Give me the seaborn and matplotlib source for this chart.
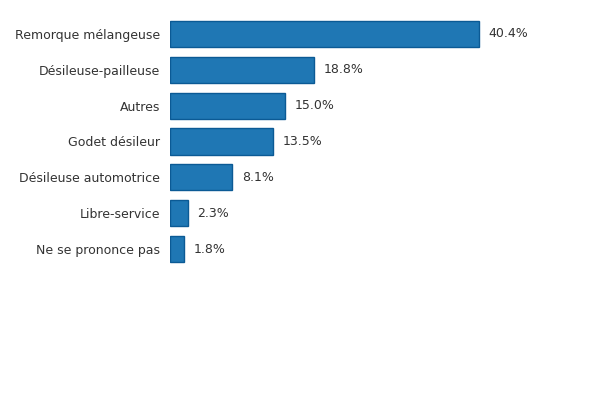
import matplotlib
matplotlib.use("Agg")
import matplotlib.pyplot as plt
import seaborn as sns
import pandas as pd

categories = ["Remorque mélangeuse", "Désileuse-pailleuse", "Autres", "Godet désileur",
              "Désileuse automotrice", "Libre-service", "Ne se prononce pas"]
values = [40.4, 18.8, 15.0, 13.5, 8.1, 2.3, 1.8]

sns.set_style("white")
plt.rcParams["font.family"] = ["DejaVu Sans"]

df = pd.DataFrame({"cat": categories, "val": values})

fig = plt.figure(figsize=(5.9, 4), dpi=100)
ax = fig.add_axes([170 / 590, 1 - 267 / 400, 410 / 590, 251 / 400])
sns.barplot(data=df, x="val", y="cat", orient="h", color="#1f77b4", saturation=1,
            width=0.73, edgecolor="#0b5a95", linewidth=1, ax=ax)

ax.bar_label(ax.containers[0], labels=[f"{v:.1f}%" for v in values],
             padding=7, fontsize=9, color="#333333")
ax.set_xlim(0, 410 / 7.65)
ax.set_ylim(6.5, -0.5)
ax.set_xlabel("")
ax.set_ylabel("")
ax.set_xticks([])
ax.tick_params(axis="y", length=0, pad=7, labelsize=9, labelcolor="#333333")
sns.despine(ax=ax, left=True, bottom=True)

fig.savefig("out.png", dpi=100)
